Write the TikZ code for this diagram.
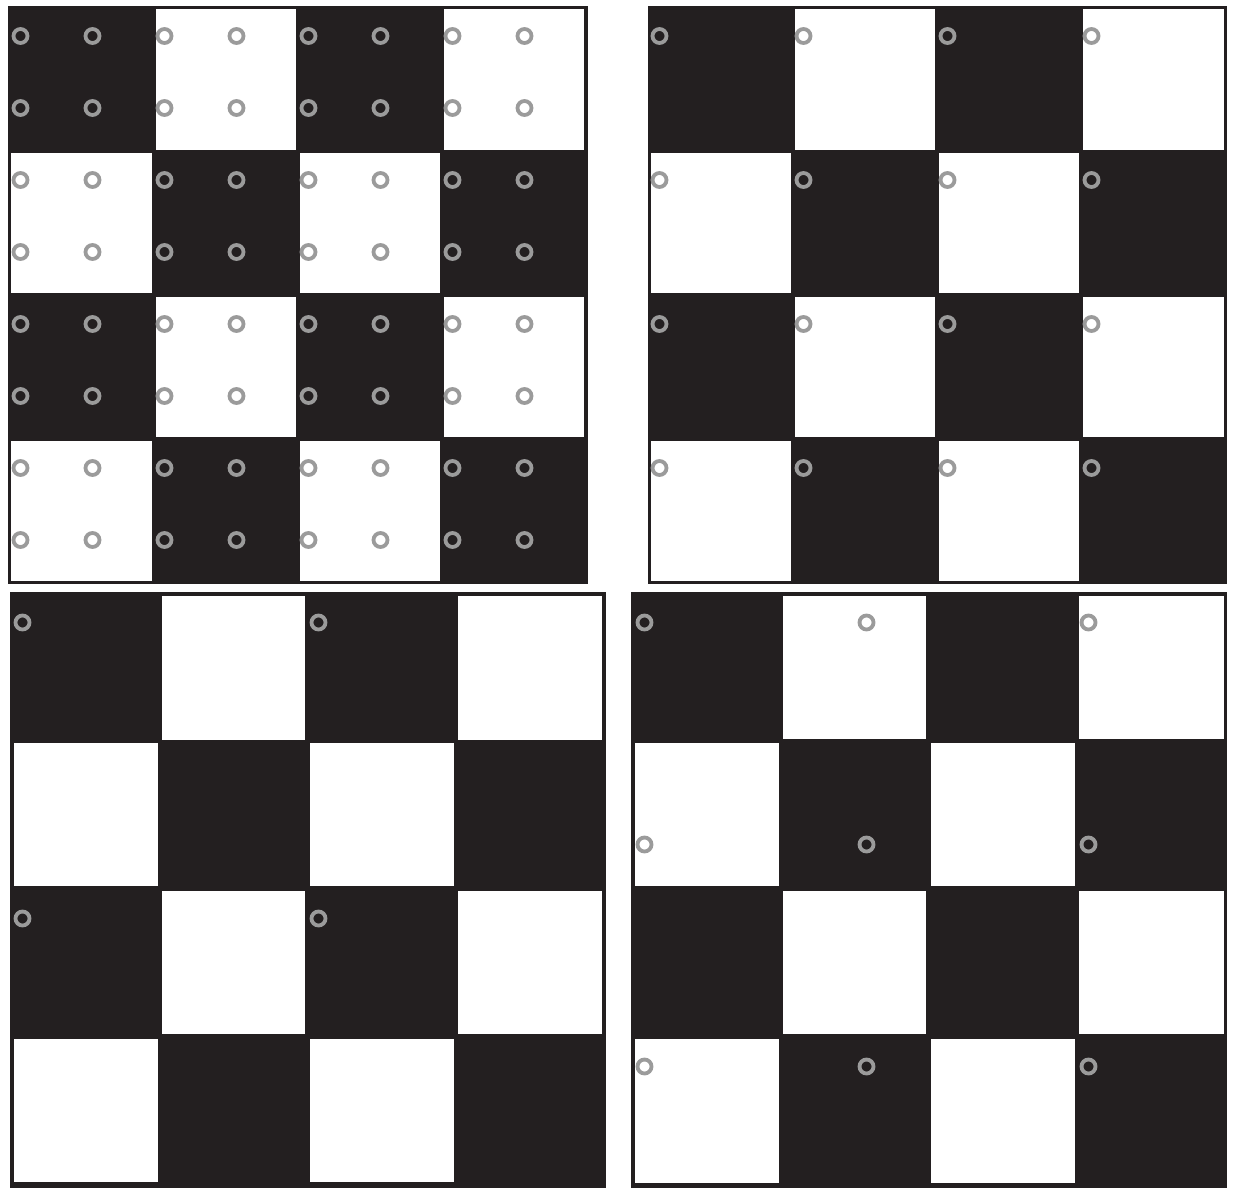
\documentclass[tikz,border=0pt]{standalone}
\definecolor{ink}{HTML}{231F20}
\definecolor{ring}{HTML}{9B9B9B}
\tikzset{
  panel/.style={fill=ink},
  wsq/.style={fill=white},
  dot/.style={draw=ring,line width=1.9pt}
}
\begin{document}
\begin{tikzpicture}[x=0.5pt,y=-0.5pt]
\useasboundingbox (0,0) rectangle (1235,1198);
% ---------- panel 1 ----------
\fill[panel] (8,6) rectangle (588,584);
\foreach \ya/\yb [count=\r] in {9/150,153/293,297/437,441/581}{
  \ifodd\r
    \fill[wsq] (156,\ya) rectangle (296,\yb);
    \fill[wsq] (444,\ya) rectangle (584,\yb);
  \else
    \fill[wsq] (11,\ya) rectangle (152,\yb);
    \fill[wsq] (300,\ya) rectangle (440,\yb);
  \fi
}
\foreach \i in {0,...,7}{\foreach \j in {0,...,7}{
  \draw[dot] ({20.5+72*\i},{36+72*\j}) circle (7);
}}
% ---------- panel 2 ----------
\fill[panel] (648,6) rectangle (1227,584);
\foreach \ya/\yb [count=\r] in {9/150,153/293,297/437,441/581}{
  \ifodd\r
    \fill[wsq] (795,\ya) rectangle (935,\yb);
    \fill[wsq] (1083,\ya) rectangle (1224,\yb);
  \else
    \fill[wsq] (651,\ya) rectangle (791,\yb);
    \fill[wsq] (939,\ya) rectangle (1079,\yb);
  \fi
}
\foreach \i in {0,...,3}{\foreach \j in {0,...,3}{
  \draw[dot] ({659.5+144*\i},{36+144*\j}) circle (7);
}}
% ---------- panel 3 ----------
\fill[panel] (10,592) rectangle (606,1188);
\foreach \ya/\yb [count=\r] in {596/740,743/886,891/1034,1039/1182}{
  \ifodd\r
    \fill[wsq] (162,\ya) rectangle (305,\yb);
    \fill[wsq] (458,\ya) rectangle (602,\yb);
  \else
    \fill[wsq] (14,\ya) rectangle (158,\yb);
    \fill[wsq] (310,\ya) rectangle (454,\yb);
  \fi
}
\foreach \i in {0,1}{\foreach \j in {0,1}{
  \draw[dot] ({22.5+296*\i},{622.5+296*\j}) circle (7);
}}
% ---------- panel 4 ----------
\fill[panel] (631,592) rectangle (1227,1188);
\foreach \ya/\yb [count=\r] in {596/739,743/886,891/1034,1039/1183}{
  \ifodd\r
    \fill[wsq] (783,\ya) rectangle (926,\yb);
    \fill[wsq] (1079,\ya) rectangle (1224,\yb);
  \else
    \fill[wsq] (635,\ya) rectangle (779,\yb);
    \fill[wsq] (931,\ya) rectangle (1075,\yb);
  \fi
}
\foreach \i in {0,1,2}{\foreach \j in {0,1,2}{
  \draw[dot] ({644.5+222*\i},{622.5+222*\j}) circle (7);
}}
\end{tikzpicture}
\end{document}
